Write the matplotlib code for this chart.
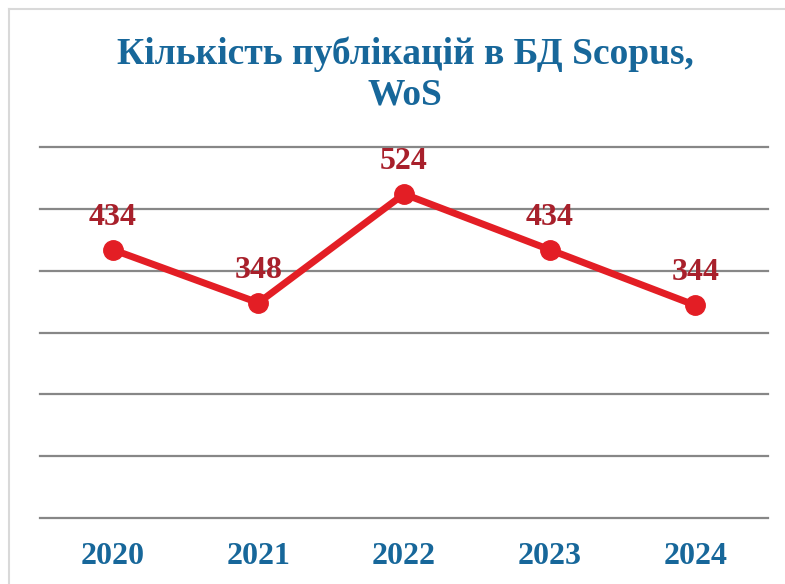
import matplotlib.pyplot as plt
from matplotlib.lines import Line2D

# data
years = ["2020", "2021", "2022", "2023", "2024"]
counts = [434, 348, 524, 434, 344]

title = "Кількість публікацій в БД Scopus,\nWoS"
blue = "#17679a"
red = "#e31e25"
dark_red = "#a8202b"

plt.rcParams["font.family"] = ["Liberation Serif", "DejaVu Serif"]

fig = plt.figure(figsize=(7.85, 5.84), dpi=100)
ax = fig.add_axes([40 / 785, 1 - 518 / 584, 728 / 785, 371 / 584])

x = list(range(len(years)))
ax.plot(x, counts, color=red, linewidth=5, marker="o", markersize=14,
        solid_capstyle="round", zorder=3)

for xi, v in zip(x, counts):
    ax.annotate(str(v), (xi, v), xytext=(0, 13), textcoords="offset points",
                ha="center", va="bottom", fontsize=23, fontweight="bold",
                color=dark_red)

ax.set_xlim(-0.5, 4.5)
ax.set_ylim(0, 600)
ax.set_yticks(range(0, 601, 100))
ax.set_yticklabels([])
ax.yaxis.grid(True, color="#878787", linewidth=1.6)
for gl in ax.get_ygridlines():
    gl.set_clip_on(False)
ax.set_axisbelow(True)
ax.tick_params(axis="y", length=0)
ax.tick_params(axis="x", length=0, pad=17)
ax.set_xticks(x)
ax.set_xticklabels(years, fontsize=23, fontweight="bold", color=blue)
for s in ax.spines.values():
    s.set_visible(False)

fig.text(0.516, 1 - 36 / 584, title, ha="center", va="top", fontsize=27,
         fontweight="bold", color=blue, linespacing=1.24)

# light frame of the original chart box
fig.add_artist(Line2D([9 / 785, 9 / 785], [0, 1 - 9 / 584], color="#d9d9d9", linewidth=1.5))
fig.add_artist(Line2D([9 / 785, 1], [1 - 9 / 584, 1 - 9 / 584], color="#d9d9d9", linewidth=1.5))

fig.savefig("out.png", dpi=100)
